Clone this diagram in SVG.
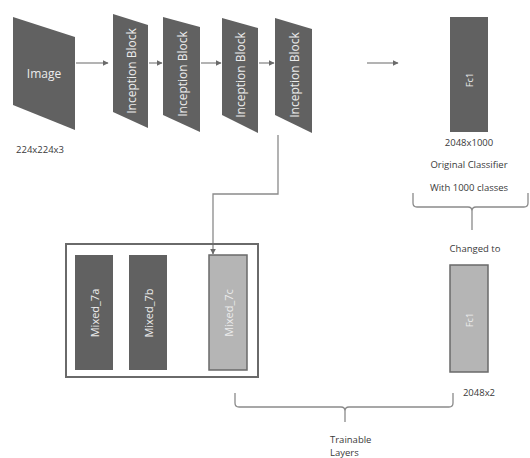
<svg xmlns="http://www.w3.org/2000/svg" width="530" height="458" viewBox="0 0 530 458">
<defs>
<marker id="ah" viewBox="0 0 10 10" refX="9" refY="5" markerWidth="6" markerHeight="6" orient="auto" markerUnits="userSpaceOnUse">
<path d="M0,0 L10,5 L0,10 z" fill="#6a6a6a"/>
</marker>
</defs>
<style>
.dark{fill:#616161}
.light{fill:#b5b5b5;stroke:#6a6a6a;stroke-width:1.5}
.bt{font-family:"Open Sans","Liberation Sans",sans-serif;fill:#ececec;text-anchor:middle;dominant-baseline:central}
.lbl{font-family:"Open Sans","Liberation Sans",sans-serif;fill:#3a3a3a;font-size:9.5px;text-anchor:middle}
.st{text-anchor:start}
.ln{fill:none;stroke:#8a8a8a;stroke-width:1.3}
</style>
<rect width="530" height="458" fill="#fff"/>
<g id="connectors">
<line class="ln" x1="76" y1="63" x2="108" y2="63" marker-end="url(#ah)"/>
<line class="ln" x1="149" y1="63" x2="162" y2="63" marker-end="url(#ah)"/>
<line class="ln" x1="201" y1="63" x2="221" y2="63" marker-end="url(#ah)"/>
<line class="ln" x1="259" y1="63" x2="274" y2="63" marker-end="url(#ah)"/>
<line class="ln" x1="367" y1="63" x2="398" y2="63" marker-end="url(#ah)"/>
<polyline class="ln" points="278,135 278,194 213,194 213,254" marker-end="url(#ah)"/>
<path class="ln" d="M413,193 L413,203 Q413,207 417,207 L468,207 Q472,207 472,211 L472,230 M472,211 Q472,207 476,207 L524,207 Q528,207 528,203 L528,193"/>
<path class="ln" d="M235,393 L235,403 Q235,407 239,407 L341,407 Q345,407 345,411 L345,422 M345,411 Q345,407 349,407 L449,407 Q453,407 453,403 L453,393"/>
</g>
<g id="image">
<polygon class="dark" points="13,17 75,37 75,130 13,105"/>
<text class="bt" x="44" y="73" font-size="12">Image</text>
<text class="lbl" x="40" y="153">224x224x3</text>
</g>
<g id="inception1">
<polygon class="dark" points="113,14 148,25 148,128 113,112"/>
<text class="bt" font-size="12" transform="translate(131,71) rotate(-90)">Inception Block</text>
</g>
<g id="inception2">
<polygon class="dark" points="163,17 200,27 200,132 163,115"/>
<text class="bt" font-size="12" transform="translate(182,74) rotate(-90)">Inception Block</text>
</g>
<g id="inception3">
<polygon class="dark" points="222,18 258,28 258,133 222,115"/>
<text class="bt" font-size="12" transform="translate(240,75) rotate(-90)">Inception Block</text>
</g>
<g id="inception4">
<polygon class="dark" points="275,18 312,29 312,133 275,115"/>
<text class="bt" font-size="12" transform="translate(294,75) rotate(-90)">Inception Block</text>
</g>
<g id="fc1-original">
<rect class="dark" x="450" y="17" width="38" height="115"/>
<text class="bt" font-size="9" transform="translate(469,80) rotate(-90)">Fc1</text>
<text class="lbl" x="469" y="146">2048x1000</text>
<text class="lbl" x="469" y="168">Original Classifier</text>
<text class="lbl" x="469" y="191">With 1000 classes</text>
</g>
<g id="changed-to">
<text class="lbl" x="475" y="252">Changed to</text>
</g>
<g id="fc1-new">
<rect class="light" x="450" y="265" width="38" height="107"/>
<text class="bt" font-size="9" transform="translate(469,320) rotate(-90)">Fc1</text>
<text class="lbl" x="479" y="396">2048x2</text>
</g>
<g id="mixed-box">
<rect x="66" y="244" width="192" height="133" fill="none" stroke="#6a6a6a" stroke-width="2"/>
</g>
<g id="mixed7a">
<rect class="dark" x="75" y="255" width="38" height="115"/>
<text class="bt" font-size="11" transform="translate(94,313) rotate(-90)">Mixed_7a</text>
</g>
<g id="mixed7b">
<rect class="dark" x="129" y="255" width="38" height="115"/>
<text class="bt" font-size="11" transform="translate(148,313) rotate(-90)">Mixed_7b</text>
</g>
<g id="mixed7c">
<rect class="light" x="209" y="255" width="38" height="115"/>
<text class="bt" font-size="11" transform="translate(228,313) rotate(-90)">Mixed_7c</text>
</g>
<g id="trainable">
<text class="lbl st" x="330" y="443">Trainable</text>
<text class="lbl st" x="330" y="456">Layers</text>
</g>
</svg>
